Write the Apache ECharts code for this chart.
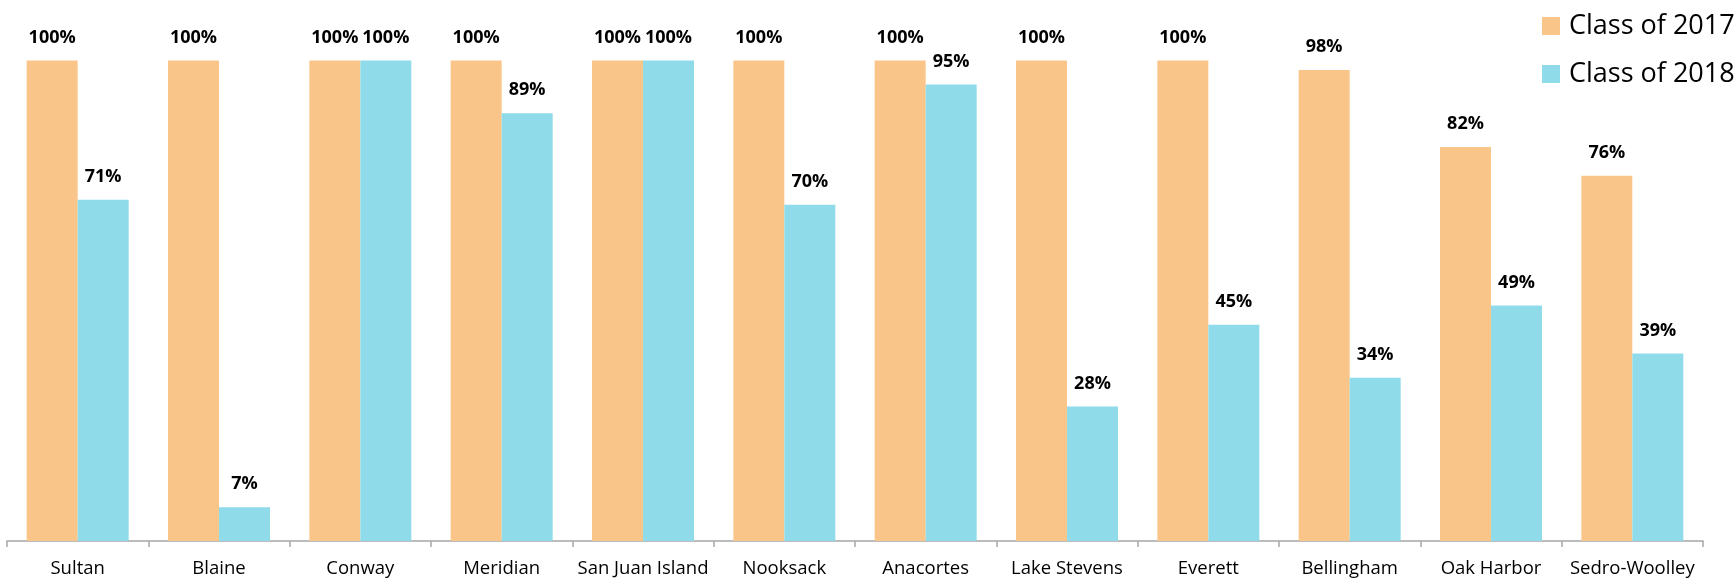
<!DOCTYPE html>
<html>
<head>
<meta charset="utf-8">
<script src="https://cdn.jsdelivr.net/npm/echarts@6/dist/echarts.min.js"></script>
<style>
html,body{margin:0;padding:0;background:#fff;}
#chart{width:1736px;height:580px;}
</style>
</head>
<body>
<div id="chart"></div>
<script>
const categories = ['Sultan','Blaine','Conway','Meridian','San Juan Island','Nooksack','Anacortes','Lake Stevens','Everett','Bellingham','Oak Harbor','Sedro-Woolley'];
const class2017 = [100,100,100,100,100,100,100,100,100,98,82,76];
const class2018 = [71,7,100,89,100,70,95,28,45,34,49,39];
const seriesNames = ['Class of 2017','Class of 2018'];

const FONT = '"Open Sans", "Noto Sans", sans-serif';
const chart = echarts.init(document.getElementById('chart'), null, {renderer:'canvas'});

const labelCfg = {
  show: true,
  position: 'top',
  distance: 14,
  formatter: p => p.value + '%',
  fontFamily: FONT,
  fontWeight: 'bold',
  fontSize: 18,
  color: '#000'
};

chart.setOption({
  animation: false,
  backgroundColor: '#fff',
  grid: { left: 7, right: 33, top: 60.5, bottom: 39, containLabel: false },
  legend: {
    orient: 'vertical',
    left: 1537,
    top: 7,
    itemWidth: 18,
    itemHeight: 18,
    itemGap: 20,
    icon: 'rect',
    textStyle: { fontFamily: FONT, fontSize: 27, color: '#000', lineHeight: 28, padding: [0,0,0,4] },
    data: seriesNames
  },
  xAxis: {
    type: 'category',
    data: categories,
    boundaryGap: true,
    axisLine: { show: true, lineStyle: { color: '#a6a6a6', width: 1.5 } },
    axisTick: { show: true, length: 6, lineStyle: { color: '#a6a6a6', width: 1.5 } },
    axisLabel: { fontFamily: FONT, fontSize: 18.5, color: '#000', margin: 18, interval: 0 }
  },
  yAxis: {
    type: 'value',
    min: 0,
    max: 100,
    show: false,
    splitLine: { show: false }
  },
  series: [
    {
      name: seriesNames[0],
      type: 'bar',
      data: class2017,
      barWidth: 51,
      barGap: '0%',
      itemStyle: { color: '#FAC589' },
      label: labelCfg
    },
    {
      name: seriesNames[1],
      type: 'bar',
      data: class2018,
      barWidth: 51,
      barGap: '0%',
      itemStyle: { color: '#8FDBEA' },
      label: labelCfg
    }
  ]
});
</script>
</body>
</html>
